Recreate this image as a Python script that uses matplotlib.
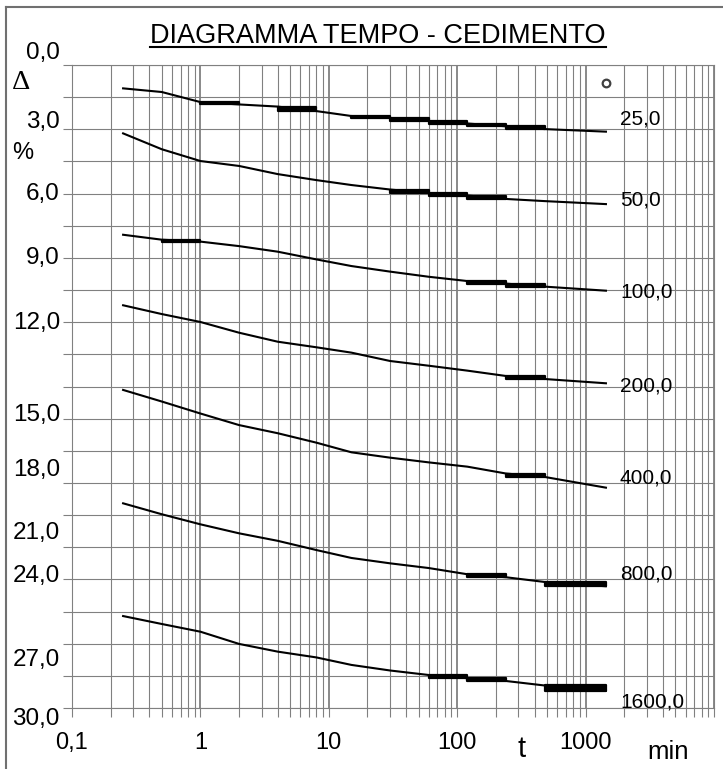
import numpy as np
import matplotlib
matplotlib.use('Agg')
import matplotlib.pyplot as plt
from matplotlib.transforms import ScaledTranslation
from matplotlib.ticker import FixedLocator, NullFormatter
from matplotlib.lines import Line2D

plt.rcParams['font.family'] = ['Liberation Sans', 'DejaVu Sans']

# ---------------- data ----------------
times = [0.25, 0.5, 1, 2, 4, 8, 15, 30, 60, 120, 240, 480, 1440]
loads = ['25,0', '50,0', '100,0', '200,0', '400,0', '800,0', '1600,0']

curve_25 = [1.09, 1.26, 1.73, 1.84, 1.94, 2.15, 2.38, 2.47, 2.61, 2.73, 2.86, 2.99, 3.11]
curve_50 = [3.19, 3.93, 4.48, 4.71, 5.09, 5.37, 5.60, 5.81, 5.97, 6.09, 6.25, 6.35, 6.49]
curve_100 = [7.92, 8.15, 8.24, 8.45, 8.71, 9.07, 9.38, 9.64, 9.88, 10.08, 10.20, 10.34, 10.53]
curve_200 = [11.21, 11.62, 11.99, 12.49, 12.91, 13.17, 13.42, 13.81, 14.03, 14.26, 14.51, 14.65, 14.85]
curve_400 = [15.16, 15.70, 16.26, 16.80, 17.18, 17.62, 18.07, 18.32, 18.54, 18.74, 19.06, 19.22, 19.72]
curve_800 = [20.45, 20.96, 21.43, 21.85, 22.20, 22.63, 23.00, 23.25, 23.47, 23.76, 23.90, 24.12, 24.32]
curve_1600 = [25.71, 26.08, 26.44, 27.01, 27.37, 27.64, 27.99, 28.25, 28.46, 28.61, 28.74, 28.95, 29.19]
curves = [curve_25, curve_50, curve_100, curve_200, curve_400, curve_800, curve_1600]

# interval indices (between times[i] and times[i+1]) drawn as heavy bars
bars_25 = [2, 4, 6, 7, 8, 9, 10]
bars_50 = [7, 8, 9]
bars_100 = [1, 9, 10]
bars_200 = [10]
bars_400 = [10]
bars_800 = [9, 11]
bars_1600 = [8, 9, 11]
bars = [bars_25, bars_50, bars_100, bars_200, bars_400, bars_800, bars_1600]

x_ticks = [0.1, 1, 10, 100, 1000, 10000]
x_tick_labels = ['0,1', '1', '10', '100', '1000', '']
y_ticks = [0, 3, 6, 9, 12, 15, 18, 21, 24, 27, 30]
y_tick_labels = ['0,0', '3,0', '6,0', '9,0', '12,0', '15,0', '18,0', '21,0', '24,0', '27,0', '30,0']

# ---------------- style / layout ----------------
W, H = 723, 769
GRID = '#808080'
ylab_dy_px = [-14.5, -10, -2, -2, -2, 25.5, 17, 15, -6, 13.5, 8.5]   # vertical offsets of y labels
rlab_dy_px = [-15, -6, -0.7, 0.7, -11.7, -14.3, 9.3]                  # offsets of load labels

fig = plt.figure(figsize=(W / 100, H / 100), dpi=100)
ax = fig.add_axes([72 / W, 1 - 708 / H, (714 - 72) / W, (708 - 65) / H])
ax.set_xscale('log')
ax.set_xlim(0.1, 10000)
ax.set_ylim(30, 0)

ax.xaxis.set_major_locator(FixedLocator(x_ticks))
ax.set_xticklabels(x_tick_labels)
minor_x = [m * 10.0 ** e for e in range(-1, 4) for m in range(2, 10)]
ax.xaxis.set_minor_locator(FixedLocator(minor_x))
ax.xaxis.set_minor_formatter(NullFormatter())

ax.yaxis.set_major_locator(FixedLocator(y_ticks))
ax.set_yticklabels(y_tick_labels)
ax.yaxis.set_minor_locator(FixedLocator(list(np.arange(1.5, 30, 3.0))))

ax.grid(which='both', color=GRID, lw=0.8)
ax.grid(which='major', axis='x', color='#6a6a6a', lw=1.1)
for s in ax.spines.values():
    s.set_color(GRID)
    s.set_linewidth(0.8)
ax.set_axisbelow(True)

ax.tick_params(which='both', direction='out', length=6.5, width=0.8, color=GRID)
ax.tick_params(axis='y', labelsize=17.5, pad=2.2)
ax.tick_params(axis='x', labelsize=17, pad=11)

for lab, dy in zip(ax.get_yticklabels(), ylab_dy_px):
    lab.set_transform(lab.get_transform() + ScaledTranslation(0, -dy / 100, fig.dpi_scale_trans))

# curves
for vals, bidx, load, dy in zip(curves, bars, loads, rlab_dy_px):
    ax.plot(times, vals, color='black', lw=1.5, solid_joinstyle='round', zorder=3)
    for i in bidx:
        ax.fill_between(times[i:i + 2], vals[i], vals[i + 1], color='black', lw=1.6, zorder=4)
    ax.annotate(load, xy=(times[-1], vals[-1]), xytext=(14 * 0.72, -(dy + 7.5) * 0.72),
                textcoords='offset points', ha='left', va='baseline', fontsize=15,
                annotation_clip=False)

# small circle symbol at top right
ax.plot([(606 - 72) / 642], [1 - (83 - 65) / 643], marker='o', ms=5.5, mfc='white',
        mec='#404040', mew=1.6, transform=ax.transAxes, clip_on=False)

# axis labels
ax.set_xlabel('t', fontsize=21)
ax.xaxis.set_label_coords((522 - 72) / 642, -(757 - 708) / 643)
ax.xaxis.label.set_va('baseline')
fig.text(647 / W, 1 - 759 / H, 'min', fontsize=18.5, ha='left', va='baseline')
fig.text(21 / W, 1 - 89 / H, 'Δ', fontsize=20.5, ha='center', va='baseline',
         family=['Liberation Serif', 'DejaVu Serif'])
fig.text(23 / W, 1 - 159 / H, '%', fontsize=17, ha='center', va='baseline')

# title with underline
title = fig.text(378 / W, 1 - 43 / H, 'DIAGRAMMA TEMPO - CEDIMENTO', fontsize=19.5,
                 ha='center', va='baseline')
fig.canvas.draw()
bb = title.get_window_extent()
fig.add_artist(Line2D([bb.x0 / W, bb.x1 / W], [1 - 47 / H, 1 - 47 / H], color='black', lw=1.5,
                      transform=fig.transFigure))

# outer frame (left and top edges visible)
fig.add_artist(Line2D([6 / W, 6 / W], [0, 1 - 6.5 / H], color='#707070', lw=1.5,
                      transform=fig.transFigure))
fig.add_artist(Line2D([6 / W, 1], [1 - 6.5 / H, 1 - 6.5 / H], color='#707070', lw=1.5,
                      transform=fig.transFigure))

fig.savefig('out.png', dpi=100)
